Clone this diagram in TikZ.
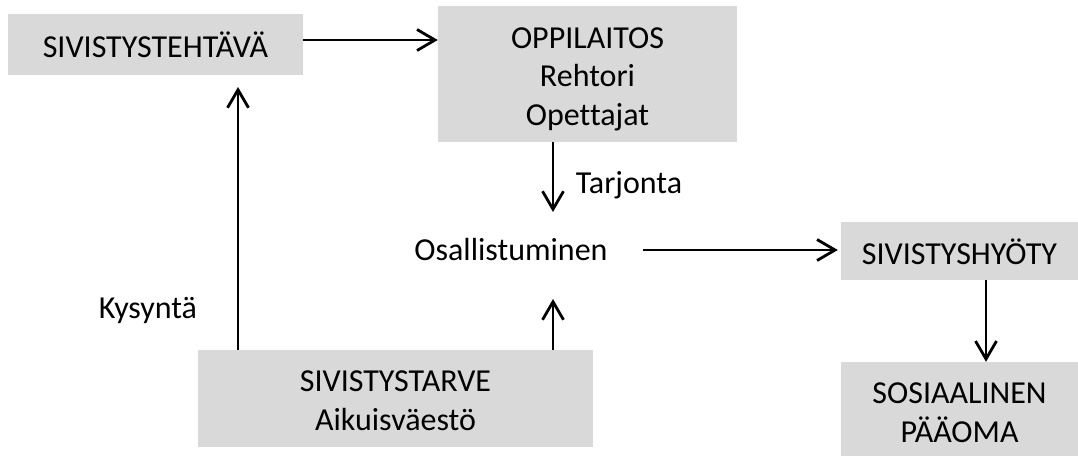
\documentclass[tikz,border=0pt]{standalone}
\usepackage{fontspec}
\setmainfont{Carlito}[Ligatures=NoCommon]
\usetikzlibrary{arrows.meta}
\definecolor{boxgray}{HTML}{D9D9D9}

\begin{document}
\begin{tikzpicture}[x=1pt,y=-1pt,
	every node/.style={font=\fontsize{32}{38.5}\selectfont},
	graybox/.style={fill=boxgray,inner sep=0pt,align=center},
	arr/.style={line width=2.8pt,-{Straight Barb[length=18pt,width=21pt]}}]
\useasboundingbox (0,0) rectangle (1078,456);

\node[graybox,minimum width=295,text height=43,text depth=18] (teht) at (155.5,44.5) {SIVISTYSTEHTÄVÄ};
\node[graybox,minimum width=299,text height=119,text depth=17] (opp) at (587.5,74) {OPPILAITOS\\Rehtori\\Opettajat};
\node (osall) at (511,250) {Osallistuminen};
\node[graybox,minimum width=237,text height=42,text depth=16] (hyoty) at (959.5,251) {SIVISTYSHYÖTY};
\node[graybox,minimum width=237,text height=80,text depth=14] (paaoma) at (959.5,409) {SOSIAALINEN\\PÄÄOMA};
\node[graybox,minimum width=395,text height=80,text depth=17] (tarve) at (395.5,398.5) {SIVISTYSTARVE\\Aikuisväestö};
\node (kys) at (148,310) {Kysyntä};
\node (tarj) at (629,185) {Tarjonta};

\coordinate (osin) at (553,212);
\coordinate (osout) at (553,299);
\coordinate (kin) at (238,87);

\draw[arr] ([yshift=4.5pt]teht.east) -- ([yshift=4.5pt]teht.east -| opp.west);
\draw[arr] (opp.south -| osin) -- (osin);
\draw[arr] (tarve.north -| osout) -- (osout);
\draw[arr] ([xshift=32pt]osall.east) -- ([xshift=-3pt]osall.east -| hyoty.west);
\draw[arr] ([xshift=26.5pt]hyoty.south) -- ([xshift=26.5pt]hyoty.south |- paaoma.north);
\draw[arr] (tarve.north -| kin) -- (kin);

\end{tikzpicture}
\end{document}
